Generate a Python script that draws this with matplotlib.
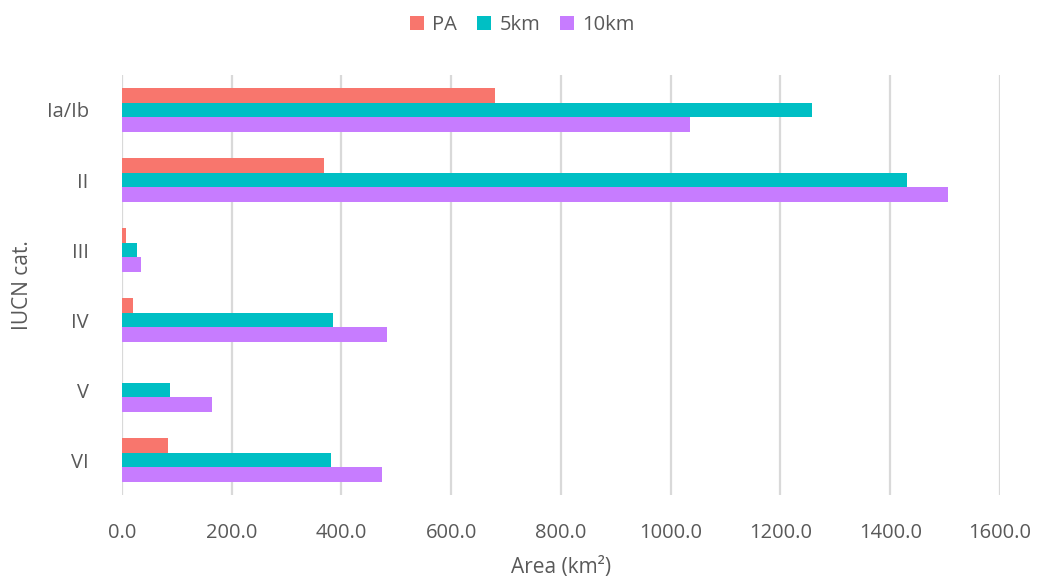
import numpy as np
import matplotlib
matplotlib.use("Agg")
import matplotlib.pyplot as plt

plt.rcParams["font.family"] = ["Open Sans", "DejaVu Sans"]

categories = ["Ia/Ib", "II", "III", "IV", "V", "VI"]
series_names = ["PA", "5km", "10km"]
pa_area = [680, 368, 7, 21, 0, 83]
km5_area = [1257, 1431, 27, 385, 88, 380]
km10_area = [1035, 1505, 34, 483, 164, 474]
colors = ["#F8766D", "#00BFC4", "#C77CFF"]
x_ticks = [0, 200, 400, 600, 800, 1000, 1200, 1400, 1600]

TEXT_GRAY = "#595959"


def main():
    fig = plt.figure(figsize=(10.38, 5.76), dpi=100)
    ax = fig.add_axes([0.1175, 0.1406, 0.8459, 0.7292])

    y = np.arange(len(categories))
    h = 0.207
    offsets = [-h, 0.0, h]
    for vals, name, col, off in zip([pa_area, km5_area, km10_area],
                                    series_names, colors, offsets):
        ax.barh(y + off, vals, height=h, color=col, edgecolor="none",
                label=name, zorder=3)

    ax.set_xlim(0, 1600)
    ax.set_ylim(len(categories) - 0.5, -0.5)
    ax.set_xticks(x_ticks)
    ax.set_xticklabels([f"{v:.1f}" for v in x_ticks])
    ax.set_yticks(y)
    ax.set_yticklabels(categories)
    ax.tick_params(axis="both", length=0, labelsize=14.5, colors=TEXT_GRAY)
    ax.tick_params(axis="x", pad=20)
    ax.tick_params(axis="y", pad=24)

    ax.grid(axis="x", color="#d9d9d9", linewidth=1.6, zorder=0)
    for s in ax.spines.values():
        s.set_visible(False)

    ax.set_xlabel("Area (km²)", fontsize=15, color=TEXT_GRAY, labelpad=10)
    ax.set_ylabel("IUCN cat.", fontsize=15, color=TEXT_GRAY, labelpad=10)

    ax.legend(loc="upper center", bbox_to_anchor=(0.456, 1.185), ncol=3,
              frameon=False, fontsize=14.5, handlelength=0.7, handleheight=0.7,
              handletextpad=0.4, columnspacing=1.0, labelcolor=TEXT_GRAY)

    fig.savefig("out.png", dpi=100)
    plt.close(fig)


if __name__ == "__main__":
    main()
